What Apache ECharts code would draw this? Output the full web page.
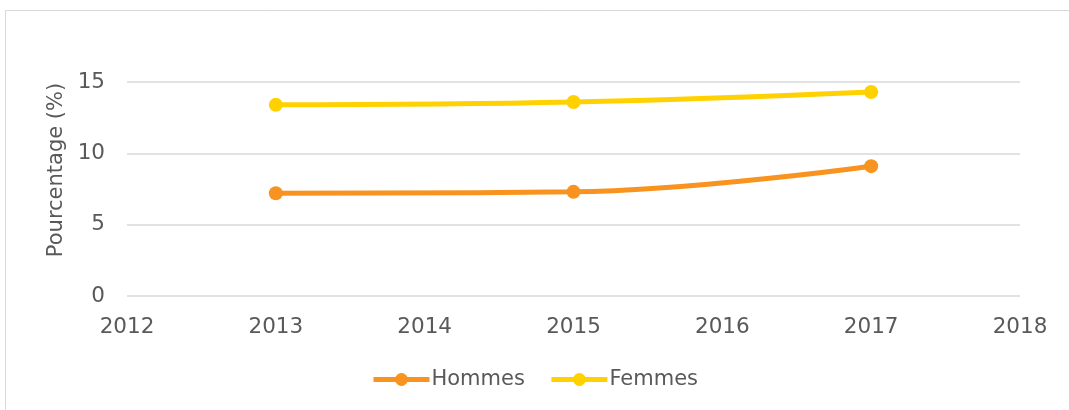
<!DOCTYPE html>
<html>
<head>
<meta charset="utf-8">
<script src="https://cdn.jsdelivr.net/npm/echarts@6/dist/echarts.min.js"></script>
<style>
  html, body { margin: 0; padding: 0; background: #fff; }
  #chart { width: 1069px; height: 410px; }
</style>
</head>
<body>
<div id="chart"></div>
<script>
const years = [2013, 2015, 2017]
const hommes = [7.2, 7.3, 9.1]
const femmes = [13.4, 13.6, 14.3]
const yTicks = [0, 5, 10, 15]

const chart = echarts.init(document.getElementById('chart'))
const font = 'DejaVu Sans, sans-serif'
const grey = '#595959'

const option = {
    animation: false,
    graphic: [
        {
            type: 'rect',
            shape: { x: 5.5, y: 10.5, width: 1080, height: 420 },
            style: { fill: 'none', stroke: '#d9d9d9', lineWidth: 1 },
            silent: true
        },
        {
            // axis title, placed like the Excel one (a bit above the plot centre)
            type: 'text',
            x: 57,
            y: 170,
            rotation: Math.PI / 2,
            style: {
                text: 'Pourcentage (%)',
                fontFamily: font,
                fontSize: 21,
                fill: grey,
                align: 'center',
                verticalAlign: 'middle'
            }
        }
    ],
    grid: { left: 127, right: 49, top: 82, bottom: 114 },
    legend: {
        top: 364,
        left: 'center',
        itemWidth: 56,
        itemHeight: 16,
        itemGap: 24,
        lineStyle: { width: 5 },
        textStyle: { fontFamily: font, fontSize: 21, color: grey, padding: [0, 0, 0, -3] },
        data: ['Hommes', 'Femmes']
    },
    xAxis: {
        type: 'value',
        min: 2012,
        max: 2018,
        interval: 1,
        axisLine: { show: false },
        axisTick: { show: false },
        splitLine: { show: false },
        axisLabel: {
            fontFamily: font, fontSize: 21.5, color: grey, margin: 20,
            formatter: v => String(v)
        }
    },
    yAxis: {
        type: 'value',
        min: yTicks[0],
        max: yTicks[yTicks.length - 1],
        interval: 5,
        axisLine: { show: false },
        axisTick: { show: false },
        splitLine: { lineStyle: { color: '#d9d9d9', width: 1.5 } },
        axisLabel: { fontFamily: font, fontSize: 21.5, color: grey, margin: 22 }
    },
    series: [
        {
            name: 'Hommes',
            type: 'line',
            smooth: 0.4,
            data: years.map((y, i) => [y, hommes[i]]),
            symbol: 'circle',
            symbolSize: 14,
            lineStyle: { width: 5, color: '#F7931E' },
            itemStyle: { color: '#F7931E' }
        },
        {
            name: 'Femmes',
            type: 'line',
            smooth: 0.4,
            data: years.map((y, i) => [y, femmes[i]]),
            symbol: 'circle',
            symbolSize: 14,
            lineStyle: { width: 5, color: '#FFD100' },
            itemStyle: { color: '#FFD100' }
        }
    ]
}
chart.setOption(option)
</script>
</body>
</html>
